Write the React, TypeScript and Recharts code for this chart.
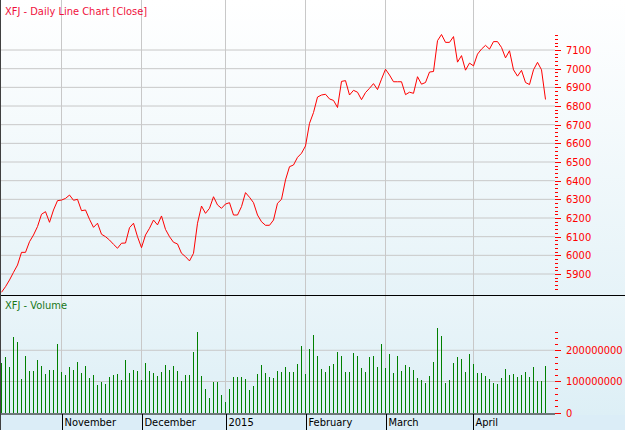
import React from 'react';
import { LineChart, Line, BarChart, Bar, XAxis, YAxis, CartesianGrid } from 'recharts';

// month boundaries (index of first trading day of the month)
const monthLabels = ['November', 'December', '2015', 'February', 'March', 'April'];
const monthStarts = [15, 35, 56, 76, 96, 118];

// daily close, 13 Oct 2014 .. 29 Apr 2015
const closePrices = [
  5802, 5832, 5868, 5909, 5948, 6016, 6016, 6073, 6109, 6154, 6220, 6234, 6177, 6243, 6293, 6296, 6305, 6323,
  6295, 6300, 6239, 6243, 6193, 6150, 6172, 6113, 6100, 6082, 6059, 6038, 6065, 6066, 6148, 6172, 6100, 6041,
  6109, 6145, 6189, 6163, 6211, 6139, 6100, 6070, 6061, 6011, 5993, 5970, 6011, 6172, 6264, 6225, 6252, 6314,
  6270, 6252, 6275, 6282, 6216, 6216, 6261, 6336, 6311, 6282, 6216, 6180, 6161, 6161, 6189, 6279, 6300, 6404,
  6475, 6484, 6525, 6547, 6586, 6707, 6765, 6848, 6859, 6863, 6838, 6830, 6792, 6932, 6936, 6859, 6884, 6874,
  6834, 6872, 6895, 6920, 6888, 6944, 6997, 6966, 6930, 6930, 6930, 6861, 6874, 6868, 6957, 6917, 6926, 6982,
  6985, 7150, 7183, 7141, 7141, 7172, 7035, 7070, 6992, 7030, 7015, 7078, 7105, 7125, 7105, 7145, 7145, 7114,
  7058, 7096, 6994, 6960, 6991, 6926, 6915, 6994, 7034, 6994, 6835,
];

// daily volume, millions
const volumeMillions = [
  160, 180, 148, 244, 225, 107, 182, 134, 134, 169, 150, 124, 137, 137, 220, 131, 121, 146,
  137, 162, 126, 150, 110, 121, 89, 97, 91, 113, 121, 124, 105, 169, 126, 137, 135, 105,
  158, 134, 126, 116, 132, 153, 137, 150, 134, 100, 121, 121, 193, 259, 118, 75, 46, 98,
  98, 57, 35, 75, 113, 113, 113, 107, 73, 86, 124, 153, 126, 113, 110, 134, 132, 146,
  132, 132, 156, 214, 124, 204, 249, 182, 140, 132, 150, 156, 195, 182, 131, 131, 190, 182,
  144, 132, 178, 182, 146, 220, 144, 188, 126, 182, 134, 152, 148, 137, 110, 105, 96, 118,
  164, 273, 246, 96, 105, 160, 177, 171, 132, 188, 156, 128, 128, 118, 107, 96, 92, 111,
  139, 121, 124, 113, 121, 132, 113, 148, 100, 100, 150,
];

const priceGrid = [5900, 6000, 6100, 6200, 6300, 6400, 6500, 6600, 6700, 6800, 6900, 7000, 7100];
const volumeGrid = [100000000, 200000000];

const rows = closePrices.map((close, i) => ({ i, close, volume: volumeMillions[i] * 1e6 }));

// minor ticks every 20 points / 20M
const priceTicks = Array.from({ length: 69 }, (_, k) => 5820 + k * 20);
const volumeTicks = Array.from({ length: 14 }, (_, k) => k * 20000000);

const FONT = "'DejaVu Sans Condensed', 'Liberation Sans', Arial, sans-serif";
const X_DOMAIN: [number, number] = [-0.375, 138.375];
const AXIS_RED = '#ff0000';
const BAR_GREEN = '#008000';

const PriceTick = (props: any) => {
  const { x, y, payload } = props;
  const major = payload.value % 100 === 0;
  const yy = Math.round(y) + 0.5;
  return (
    <g>
      <line x1={x} x2={x + (major ? 6 : 3)} y1={yy} y2={yy} stroke={AXIS_RED} />
      {major && (
        <text x={x + 11} y={y + 4} fill={AXIS_RED} fontSize={11} fontFamily={FONT}>
          {payload.value}
        </text>
      )}
    </g>
  );
};

const VolumeTick = (props: any) => {
  const { x, y, payload } = props;
  const major = payload.value % 100000000 === 0;
  const yy = Math.round(y) + 0.5;
  return (
    <g>
      <line x1={x} x2={x + (major ? 6 : 3)} y1={yy} y2={yy} stroke={AXIS_RED} />
      {major && (
        <text x={x + 11} y={y + 4} fill={AXIS_RED} fontSize={11} fontFamily={FONT}>
          {payload.value}
        </text>
      )}
    </g>
  );
};

const MonthTick = (props: any) => {
  const { x, y, payload } = props;
  const label = monthLabels[monthStarts.indexOf(payload.value)];
  const xx = Math.round(x) + 0.5;
  return (
    <g>
      <line x1={xx} x2={xx} y1={y} y2={y + 16} stroke="#000" />
      <text x={xx + 2} y={y + 12} fill="#000" fontSize={11} fontFamily={FONT}>
        {label}
      </text>
    </g>
  );
};

// 1px volume stick, snapped to whole pixels
const VolumeStick = (props: any) => {
  const { x, y, width, height } = props;
  if (!height || height <= 0) return null;
  const cx = Math.round(x + width / 2 - 0.5);
  return <rect x={cx} y={Math.round(y)} width={1} height={Math.round(y + height) - Math.round(y)} fill={BAR_GREEN} />;
};

export default function App() {
  return (
    <div style={{ position: 'absolute', left: 0, top: 0, width: 625, height: 430, overflow: 'hidden', fontFamily: FONT }}>
      <style>{'.crisp line, .crisp path { shape-rendering: crispEdges; }'}</style>

      {/* panel backgrounds */}
      <div style={{ position: 'absolute', left: 0, top: 0, width: 625, height: 295, background: 'linear-gradient(to bottom, #ffffff, #e6f3f8)' }} />
      <div style={{ position: 'absolute', left: 0, top: 295, width: 625, height: 1, background: '#000' }} />
      <div style={{ position: 'absolute', left: 0, top: 296, width: 625, height: 119, background: 'linear-gradient(to bottom, #eaf5f9, #ddeff6)' }} />
      <div style={{ position: 'absolute', left: 0, top: 415, width: 625, height: 15, background: '#dbedf7' }} />

      <div style={{ position: 'absolute', left: 0, top: 0 }}>
        <LineChart width={625} height={295} data={rows} margin={{ top: 0, right: 0, bottom: 0, left: 0 }}>
          <CartesianGrid className="crisp" stroke="#c8c8c8" horizontalValues={priceGrid} verticalValues={monthStarts} />
          <XAxis type="number" dataKey="i" domain={X_DOMAIN} allowDataOverflow hide ticks={monthStarts} />
          <YAxis
            orientation="right"
            width={70}
            domain={[5787.5, 7368]}
            allowDataOverflow
            ticks={priceTicks}
            interval={0}
            axisLine={false}
            tickLine={false}
            tickSize={0}
            tickMargin={0}
            tick={<PriceTick />}
          />
          <Line type="linear" dataKey="close" stroke="#ff0000" strokeWidth={1} dot={false} isAnimationActive={false} />
        </LineChart>
      </div>

      <div style={{ position: 'absolute', left: 0, top: 296 }}>
        <BarChart width={625} height={134} data={rows} margin={{ top: 0, right: 0, bottom: 0, left: 0 }} barSize={1}>
          <CartesianGrid className="crisp" stroke="#c8c8c8" horizontalValues={volumeGrid} verticalValues={monthStarts} />
          <XAxis
            type="number"
            dataKey="i"
            domain={X_DOMAIN}
            allowDataOverflow
            ticks={monthStarts}
            interval={0}
            height={16}
            axisLine={{ stroke: '#000' }}
            tickLine={false}
            tickSize={0}
            tickMargin={0}
            tick={<MonthTick />}
          />
          <YAxis
            orientation="right"
            width={70}
            domain={[-4200000, 374000000]}
            allowDataOverflow
            ticks={volumeTicks}
            interval={0}
            axisLine={false}
            tickLine={false}
            tickSize={0}
            tickMargin={0}
            tick={<VolumeTick />}
          />
          <Bar dataKey="volume" fill={BAR_GREEN} shape={<VolumeStick />} isAnimationActive={false} />
        </BarChart>
      </div>

      <div style={{ position: 'absolute', left: 5, top: 5, fontSize: 11, lineHeight: '13px', color: '#f0103c' }}>
        XFJ - Daily Line Chart [Close]
      </div>
      <div style={{ position: 'absolute', left: 5, top: 299, fontSize: 11, lineHeight: '13px', color: '#187818' }}>
        XFJ - Volume
      </div>
      <div style={{ position: 'absolute', left: 0, top: 0, width: 1, height: 430, background: '#404040' }} />
    </div>
  );
}
